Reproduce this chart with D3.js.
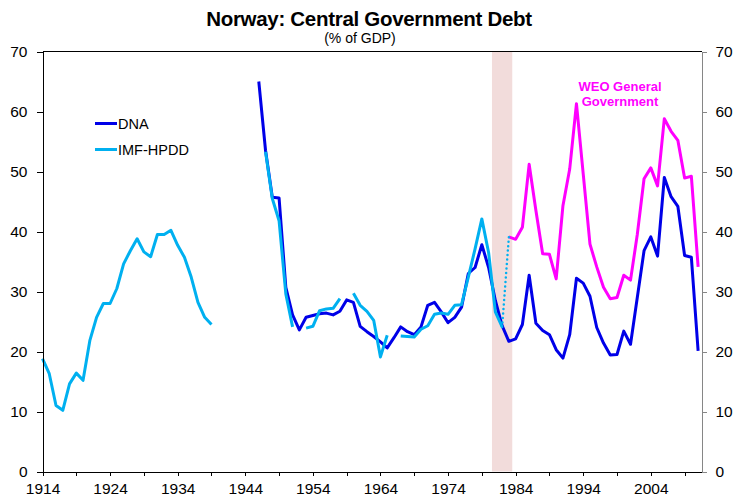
<!DOCTYPE html>
<html>
<head>
<meta charset="utf-8">
<script src="https://cdn.jsdelivr.net/npm/d3@7"></script>
<style>
  body { margin: 0; background: #fff; }
  svg { display: block; font-family: 'Liberation Sans', Arial, sans-serif; }
  .axis text { font-size: 15.5px; fill: #000; }
  .axis path, .axis line { stroke: #000; shape-rendering: crispEdges; }
  .axis.right path, .axis.right line { stroke: #868686; }
  .line { fill: none; stroke-width: 3; stroke-linejoin: round; }
</style>
</head>
<body>
<svg id="chart"></svg>
<script>
// IMF-HPDD (central government debt, % of GDP), from 1914, null = no data
const hpddStart = 1914;
const hpdd = [
  18.8, 16.3, 11.0, 10.2, 14.6, 16.4, 15.2, 21.8, 25.7, 28.0,
  28.0, 30.5, 34.6, 36.8, 38.8, 36.6, 35.8, 39.5, 39.5, 40.2,
  37.7, 35.7, 32.4, 28.2, 25.7, 24.5, null, null, null, null,
  null, null, null, 53.3, 45.5, 41.8, 29.6, 24.1, null, 23.9,
  24.2, 26.8, 27.1, 27.2, 28.8, null, 29.7, 27.7, 26.7, 25.2,
  19.1, 22.7, null, 22.6, 22.5, 22.4, 23.7, 24.3, 26.2, 26.4,
  26.2, 27.7, 27.8, 32.4, 37.1, 42.1, 36.5, 26.6, 24.1
];

// DNA series, from 1946
const dnaStart = 1946;
const dna = [
  65.0, 53.5, 45.7, 45.6, 30.7, 26.1, 23.6, 25.7, 26.0, 26.3,
  26.4, 26.1, 26.7, 28.6, 28.2, 24.2, 23.3, 22.5, 21.6, 20.6,
  22.3, 24.1, 23.3, 22.8, 24.1, 27.7, 28.2, 26.6, 24.8, 25.7,
  27.4, 33.0, 34.0, 37.8, 34.0, 28.5, 24.3, 21.7, 22.1, 24.5,
  32.7, 24.7, 23.5, 22.8, 20.3, 18.9, 22.8, 32.2, 31.4, 29.2,
  24.0, 21.4, 19.4, 19.5, 23.4, 21.2, 29.0, 36.8, 39.1, 35.9,
  49.0, 45.8, 44.2, 36.0, 35.7, 20.1
];

// WEO general government debt, from 1983
const weoStart = 1983;
const weo = [
  39.1, 38.7, 40.7, 51.2, 43.5, 36.3, 36.2, 32.1, 44.3, 50.4,
  61.3, 49.6, 37.9, 34.1, 30.7, 28.8, 29.0, 32.7, 31.9, 39.5,
  48.8, 50.6, 47.6, 58.8, 56.7, 55.2, 48.9, 49.2, 34.1
];

// shaded period (banking crisis years)
const shadeYears = [1981, 1983];

const yTicks = [0, 10, 20, 30, 40, 50, 60, 70];
const xTicks = d3.range(1914, 2010, 5);
const xLabels = [1914, 1924, 1934, 1944, 1954, 1964, 1974, 1984, 1994, 2004];

const legendItems = [
  { name: 'DNA', color: '#0000e8' },
  { name: 'IMF-HPDD', color: '#00b0f0' }
];

function toPoints(start, values) {
  return values.map((v, i) => ({ year: start + i, value: v }));
}

class DebtChart {
  constructor(_config) {
    this.config = {
      parentElement: _config.parentElement,
      containerWidth: 738,
      containerHeight: 498,
      margin: { top: 51.5, right: 36.5, bottom: 26.5, left: 42.5 }
    };
    this.initVis();
  }

  initVis() {
    let vis = this;
    vis.width = vis.config.containerWidth - vis.config.margin.left - vis.config.margin.right;
    vis.height = vis.config.containerHeight - vis.config.margin.top - vis.config.margin.bottom;

    vis.xScale = d3.scaleLinear().domain([1914, 2011.5]).range([0, vis.width]);
    vis.yScale = d3.scaleLinear().domain([0, 70]).range([vis.height, 0]);

    vis.svg = d3.select(vis.config.parentElement)
      .attr('width', vis.config.containerWidth)
      .attr('height', vis.config.containerHeight);

    vis.chart = vis.svg.append('g')
      .attr('transform', `translate(${vis.config.margin.left},${vis.config.margin.top})`);

    // titles
    vis.svg.append('text')
      .attr('x', 369).attr('y', 26)
      .attr('text-anchor', 'middle')
      .style('font-size', '20.5px').style('font-weight', 'bold')
      .style('letter-spacing', '-0.3px')
      .text('Norway: Central Government Debt');
    vis.svg.append('text')
      .attr('x', 360).attr('y', 43)
      .attr('text-anchor', 'middle')
      .style('font-size', '14px')
      .text('(% of GDP)');
  }

  renderVis() {
    let vis = this;
    const x = vis.xScale, y = vis.yScale;

    // crisis shading
    vis.chart.append('rect')
      .attr('x', x(shadeYears[0] - 0.5))
      .attr('y', 0)
      .attr('width', x(shadeYears[1] + 0.5) - x(shadeYears[0] - 0.5))
      .attr('height', vis.height)
      .attr('fill', '#f2dcdb');

    // top border
    vis.chart.append('line')
      .attr('x1', 0).attr('x2', vis.width)
      .attr('y1', 0).attr('y2', 0)
      .attr('stroke', '#000')
      .style('shape-rendering', 'crispEdges');

    const line = d3.line()
      .defined(d => d.value !== null)
      .x(d => x(d.year))
      .y(d => y(d.value));

    const hpddPts = toPoints(hpddStart, hpdd);
    const dnaPts = toPoints(dnaStart, dna);
    const weoPts = toPoints(weoStart, weo);

    vis.chart.append('path').datum(weoPts)
      .attr('class', 'line').attr('stroke', '#ff00ff').attr('d', line);
    vis.chart.append('path').datum(dnaPts)
      .attr('class', 'line').attr('stroke', legendItems[0].color).attr('d', line);
    vis.chart.append('path').datum(hpddPts)
      .attr('class', 'line').attr('stroke', legendItems[1].color).attr('d', line);

    // dotted link from last IMF-HPDD point to the first WEO point
    const link = [hpddPts[hpddPts.length - 1], weoPts[0]];
    vis.chart.append('path').datum(link)
      .attr('fill', 'none')
      .attr('stroke', '#00b0f0')
      .attr('stroke-width', 2.5)
      .attr('stroke-linecap', 'round')
      .attr('stroke-dasharray', '0,4.5')
      .attr('d', line);

    // axes
    vis.chart.append('g')
      .attr('class', 'axis')
      .call(d3.axisLeft(y).tickValues(yTicks).tickSize(6).tickPadding(9).tickSizeOuter(0));

    vis.chart.append('g')
      .attr('class', 'axis right')
      .attr('transform', `translate(${vis.width},0)`)
      .call(d3.axisRight(y).tickValues(yTicks).tickSize(5).tickPadding(9).tickSizeOuter(0));

    vis.chart.append('g')
      .attr('class', 'axis')
      .attr('transform', `translate(0,${vis.height})`)
      .call(d3.axisBottom(x).tickValues(xTicks).tickSize(4).tickPadding(7)
        .tickSizeOuter(0)
        .tickFormat(d => xLabels.includes(d) ? d : ''));

    // legend
    const legend = vis.svg.append('g').attr('transform', 'translate(95,123.5)');
    legend.selectAll('line')
      .data(legendItems)
      .join('line')
      .attr('x1', 0).attr('x2', 22)
      .attr('y1', (d, i) => i * 26).attr('y2', (d, i) => i * 26)
      .attr('stroke', d => d.color)
      .attr('stroke-width', 3);
    legend.selectAll('text')
      .data(legendItems)
      .join('text')
      .attr('x', 23)
      .attr('y', (d, i) => i * 26 + 5)
      .style('font-size', '14.5px')
      .text(d => d.name);

    // WEO label
    const weoLabel = vis.svg.append('text')
      .attr('text-anchor', 'middle')
      .style('font-size', '13px').style('font-weight', 'bold')
      .attr('fill', '#ff00ff');
    weoLabel.append('tspan').attr('x', 620).attr('y', 91).text('WEO General');
    weoLabel.append('tspan').attr('x', 620).attr('y', 105.5).text('Government');
  }
}

const chart = new DebtChart({ parentElement: '#chart' });
chart.renderVis();
</script>
</body>
</html>
